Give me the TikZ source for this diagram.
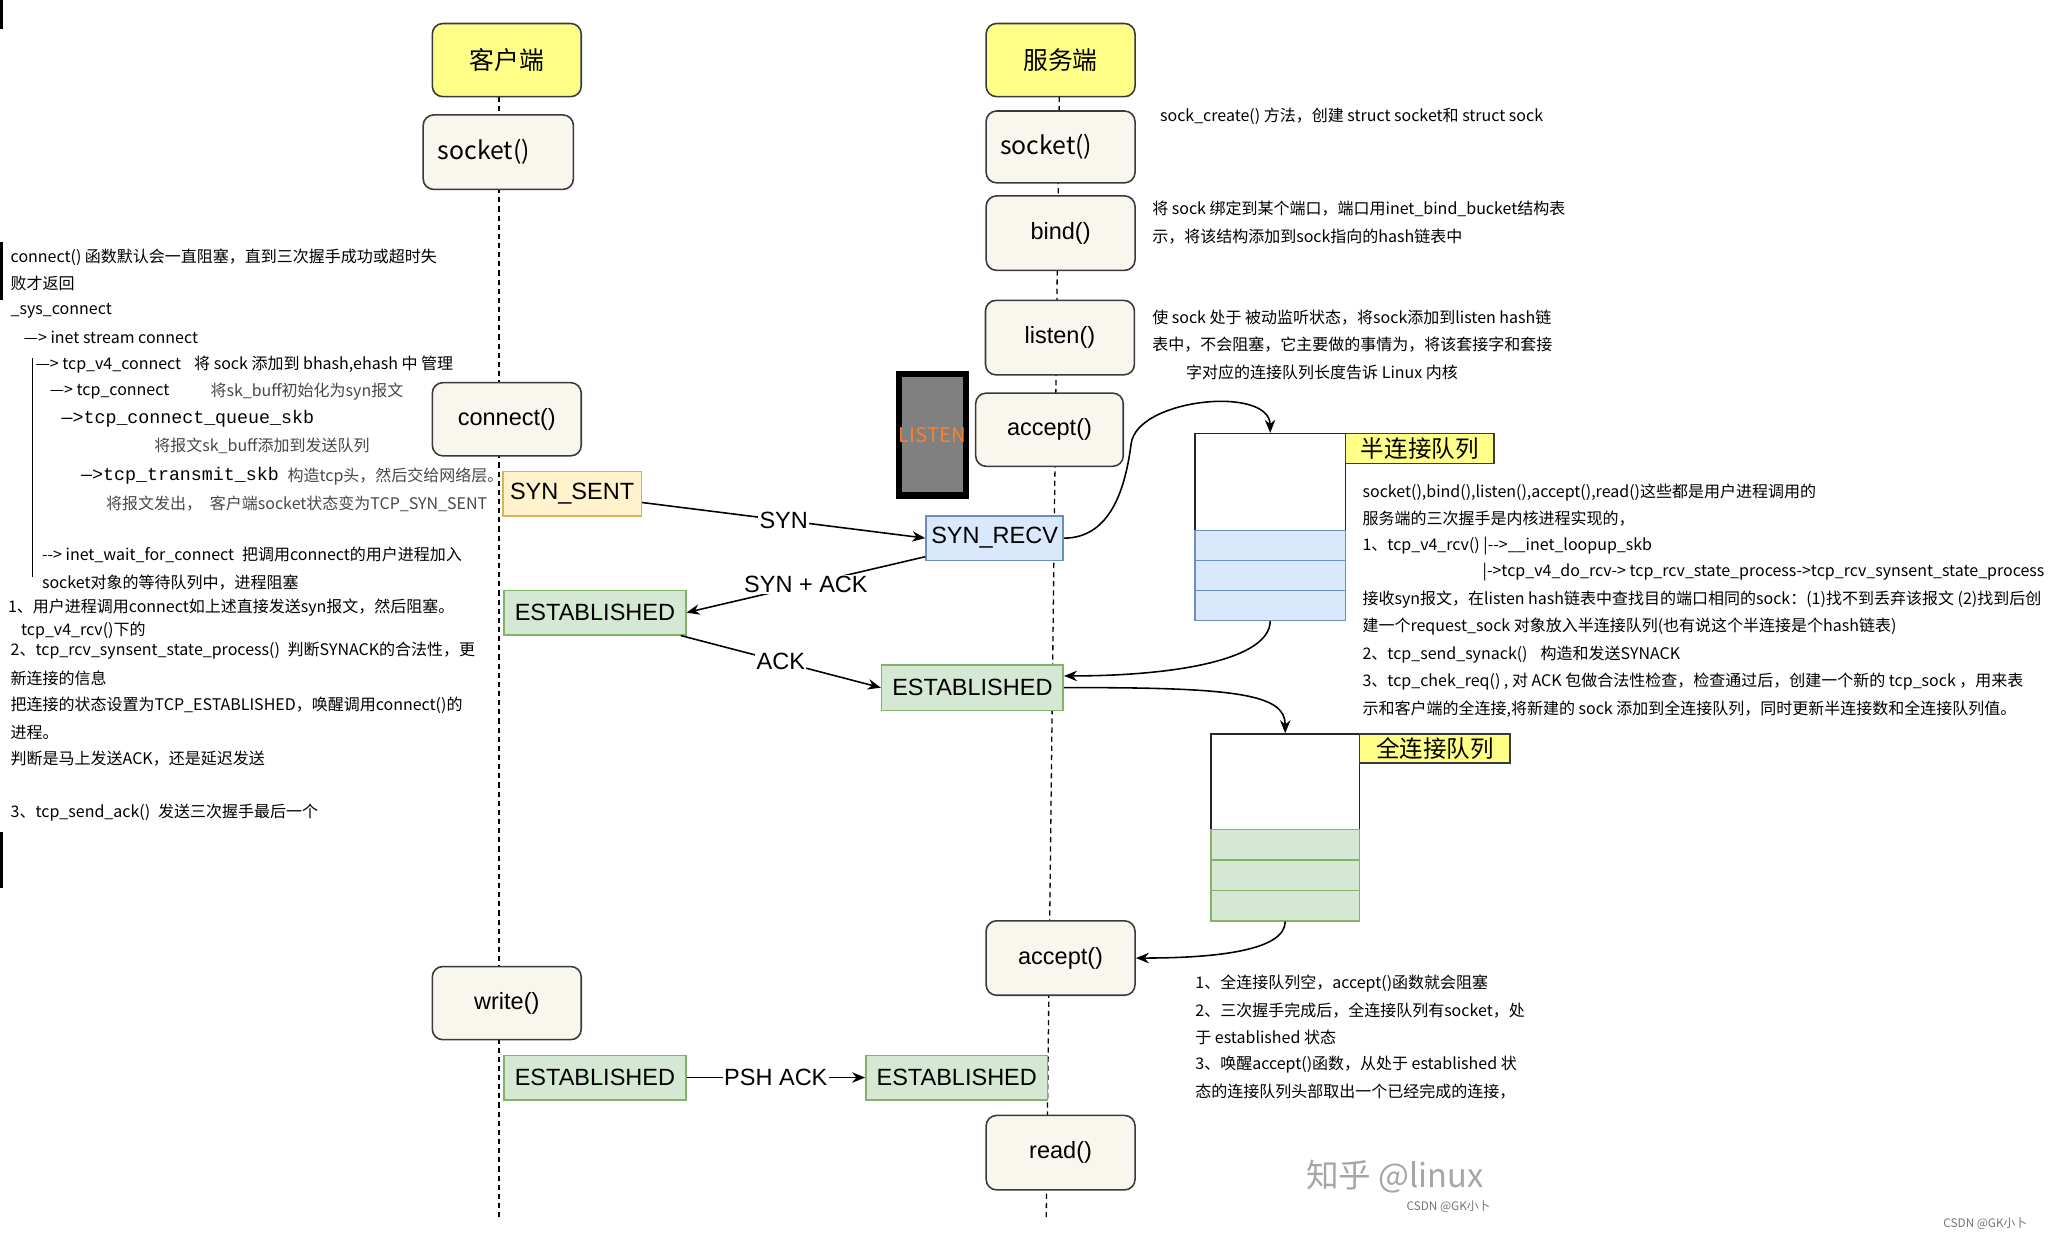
\documentclass[tikz,border=0pt]{standalone}
\usepackage{fontspec}
\setmainfont{Noto Sans CJK SC}
\newfontfamily\drawfont{Liberation Sans}
\newfontfamily\codefont{Liberation Mono}
\usetikzlibrary{arrows.meta}

\definecolor{fnfill}{HTML}{F9F7ED}
\definecolor{fnline}{HTML}{36393D}
\definecolor{headfill}{HTML}{FFFF88}
\definecolor{sentfill}{HTML}{FFF2CC}
\definecolor{sentline}{HTML}{D6B656}
\definecolor{recvfill}{HTML}{DAE8FC}
\definecolor{recvline}{HTML}{6C8EBF}
\definecolor{estfill}{HTML}{D5E8D4}
\definecolor{estline}{HTML}{82B366}
\definecolor{listenorange}{HTML}{FF7F27}

\tikzset{
    fn/.style={rectangle, rounded corners=8pt, draw=fnline, fill=fnfill, line width=1.2pt, minimum width=114pt, minimum height=56pt, inner sep=0pt, font=\drawfont\fontsize{18}{20}\selectfont},
    head/.style={fn, fill=headfill, font=\fontsize{19}{21}\selectfont},
    sockfn/.style={fn, font=\fontsize{19}{21}\selectfont},
    state/.style={rectangle, line width=1.2pt, minimum height=34pt, inner sep=0pt, font=\drawfont\fontsize{18}{20}\selectfont},
    sent/.style={state, fill=sentfill, draw=sentline, minimum width=106pt},
    recv/.style={state, fill=recvfill, draw=recvline, minimum width=105pt},
    estab/.style={state, fill=estfill, draw=estline, minimum width=139pt},
    msg/.style={fill=white, inner sep=1pt, font=\drawfont\fontsize{18}{20}\selectfont},
    arr/.style={-{Stealth[length=10pt, width=8pt]}, line width=1.2pt},
    life/.style={dash pattern=on 4pt off 3pt, line width=1pt},
    qtop/.style={rectangle, draw=black!85, fill=white, line width=1.2pt, inner sep=0pt},
    qhalf/.style={rectangle, draw=recvline, fill=recvfill, line width=1.2pt, inner sep=0pt, minimum width=115pt, minimum height=23pt},
    qfull/.style={rectangle, draw=estline, fill=estfill, line width=1.2pt, inner sep=0pt, minimum width=114pt, minimum height=23.3pt},
    qname/.style={rectangle, draw=fnline, fill=headfill, line width=1.2pt, inner sep=0pt, font=\fontsize{18}{20}\selectfont},
    note/.style={anchor=west, inner sep=0pt, font=\fontsize{12.25}{14}\selectfont},
    dim/.style={note, text=black!72},
    code/.style={note, font=\codefont\fontsize{14}{16}\selectfont},
}

\begin{document}
\begin{tikzpicture}[x=1pt, y=-1pt]
        \useasboundingbox (0, 0) rectangle (1568, 949);
        \coordinate (c0) at (382, 74);
        \coordinate (c1) at (382, 934);
        \coordinate (s0) at (811, 74);
        \coordinate (s1) at (801, 934);
        \draw [life] (c0) -- (c1);
        \draw [life] (s0) -- (s1);

        \node (1) at (388, 46) [head] {客户端};
        \node (2) at (812, 46) [head] {服务端};
        \node (3) at (381.5, 116.5) [sockfn, minimum width=115pt, minimum height=57pt] {socket()\kern22pt};
        \node (4) at (812, 112.5) [sockfn, minimum height=55pt] {socket()\kern22pt};
        \node (5) at (812, 178.5) [fn, minimum height=57pt] {bind()};
        \node (6) at (811.5, 258.5) [fn, minimum height=57pt] {listen()};
        \node (7) at (803.5, 329) [fn, minimum width=113pt] {accept()};
        \node (8) at (714, 333) [rectangle, draw=black, fill=black!50, line width=5pt, minimum width=49pt, minimum height=93pt, inner sep=0pt, text=listenorange, font=\fontsize{15.5}{17}\selectfont] {LISTEN};
        \node (9) at (388, 321) [fn] {connect()};
        \node (10) at (438, 378) [sent] {SYN\_SENT};
        \node (11) at (761.5, 412) [recv] {SYN\_RECV};
        \node (12) at (455.5, 469) [estab] {ESTABLISHED};
        \node (13) at (744.5, 526.5) [estab, minimum height=35pt] {ESTABLISHED};

        \node (14) at (972.5, 369) [qtop, minimum width=115pt, minimum height=74pt] {};
        \node (15) at (972.5, 417.5) [qhalf] {};
        \node (16) at (972.5, 440.5) [qhalf] {};
        \node (17) at (972.5, 463.5) [qhalf] {};
        \node (18) at (1087, 343.5) [qname, minimum width=114pt, minimum height=23pt] {半连接队列};
        \node (19) at (984, 598.5) [qtop, minimum width=114pt, minimum height=73pt] {};
        \node (20) at (984, 646.7) [qfull] {};
        \node (21) at (984, 670) [qfull] {};
        \node (22) at (984, 693.3) [qfull] {};
        \node (23) at (1098.5, 573) [qname, minimum width=115pt, minimum height=22pt] {全连接队列};

        \node (24) at (812, 733.5) [fn, minimum height=57pt] {accept()};
        \node (25) at (388, 768) [fn] {write()};
        \node (26) at (455.5, 825) [estab] {ESTABLISHED};
        \node (27) at (732.5, 825) [estab] {ESTABLISHED};
        \node (28) at (812, 882.5) [fn, minimum height=57pt] {read()};

        \draw (10) edge [arr] node [msg] {SYN} (11.west);
        \draw (11.195) edge [arr] node [msg] {SYN + ACK} (12.east);
        \draw (12.-15) edge [arr] node [msg] {ACK} (13.west);
        \draw (26.east) edge [arr] node [msg] {PSH ACK} (27.west);
        \draw [arr] (11.east) .. controls (852, 412) and (862, 370) .. (866, 340) .. controls (870, 305) and (972, 295) .. (14.north);
        \draw [arr] (17.south) .. controls (972, 505) and (900, 517.5) .. ([yshift=9pt]13.east);
        \draw [arr] (13.east) .. controls (950, 526) and (984, 532) .. (19.north);
        \draw [arr] (22.south) .. controls (984, 728) and (930, 733.5) .. (24.east);

        \draw [line width=1pt] (25, 274) -- (25, 442);
        \node (30) at (8, 197) [note] {connect() 函数默认会一直阻塞，直到三次握手成功或超时失};
        \node (31) at (8, 217) [note] {败才返回};
        \node (32) at (8, 238) [note] {\_sys\_connect};
        \node (33) at (18, 258) [note] {—> inet stream connect};
        \node (34) at (27, 279) [note] {—> tcp\_v4\_connect\hspace{10pt}将 sock 添加到 bhash,ehash 中 管理};
        \node (35) at (38, 300) [note] {—> tcp\_connect};
        \node (36) at (161, 300) [dim] {将sk\_buff初始化为syn报文};
        \node (37) at (47, 321) [code] {—>tcp\_connect\_queue\_skb};
        \node (38) at (118, 341) [dim] {将报文sk\_buff添加到发送队列};
        \node (39) at (62, 364) [code] {—>tcp\_transmit\_skb};
        \node (40) at (220, 365) [dim] {构造tcp头，然后交给网络层。};
        \node (41) at (81, 386) [dim] {将报文发出，\hspace{6pt}客户端socket状态变为TCP\_SYN\_SENT};
        \node (42) at (32, 425) [note] {-\kern0pt-> inet\_wait\_for\_connect\hspace{6pt}把调用connect的用户进程加入};
        \node (43) at (32, 446) [note] {socket对象的等待队列中，进程阻塞};
        \node (44) at (6, 465) [note] {1、用户进程调用connect如上述直接发送syn报文，然后阻塞。};
        \node (45) at (16, 483) [note] {tcp\_v4\_rcv()下的};
        \node (46) at (8, 498) [note] {2、tcp\_rcv\_synsent\_state\_process()\hspace{6pt}判断SYNACK的合法性，更};
        \node (47) at (8, 519) [note] {新连接的信息};
        \node (48) at (8, 540) [note] {把连接的状态设置为TCP\_ESTABLISHED，唤醒调用connect()的};
        \node (49) at (8, 561) [note] {进程。};
        \node (50) at (8, 581) [note] {判断是马上发送ACK，还是延迟发送};
        \node (51) at (8, 622) [note] {3、tcp\_send\_ack()\hspace{6pt}发送三次握手最后一个};

        \node (52) at (888, 89) [note] {sock\_create() 方法，创建 struct socket和 struct sock};
        \node (53) at (882, 160) [note] {将 sock 绑定到某个端口，端口用inet\_bind\_bucket结构表};
        \node (54) at (882, 181) [note] {示，将该结构添加到sock指向的hash链表中};
        \node (55) at (882, 243) [note] {使 sock 处于 被动监听状态，将sock添加到listen hash链};
        \node (56) at (882, 264) [note] {表中，不会阻塞，它主要做的事情为，将该套接字和套接};
        \node (57) at (908, 285) [note] {字对应的连接队列长度告诉 Linux 内核};

        \node (58) at (1043, 377) [note] {socket(),bind(),listen(),accept(),read()这些都是用户进程调用的};
        \node (59) at (1043, 397) [note] {服务端的三次握手是内核进程实现的，};
        \node (60) at (1043, 418) [note] {1、tcp\_v4\_rcv() |-\kern0pt->\_\_inet\_loopup\_skb};
        \node (61) at (1135, 438) [note] {|->tcp\_v4\_do\_rcv-> tcp\_rcv\_state\_process->tcp\_rcv\_synsent\_state\_process};
        \node (62) at (1043, 459) [note] {接收syn报文，在listen hash链表中查找目的端口相同的sock：(1)找不到丢弃该报文 (2)找到后创};
        \node (63) at (1043, 480) [note] {建一个request\_sock 对象放入半连接队列(也有说这个半连接是个hash链表)};
        \node (64) at (1043, 501) [note] {2、tcp\_send\_synack()\hspace{10pt}构造和发送SYNACK};
        \node (65) at (1043, 522) [note] {3、tcp\_chek\_req() , 对 ACK 包做合法性检查，检查通过后，创建一个新的 tcp\_sock ，用来表};
        \node (66) at (1043, 543) [note] {示和客户端的全连接,将新建的 sock 添加到全连接队列，同时更新半连接数和全连接队列值。};

        \node (67) at (915, 753) [note] {1、全连接队列空，accept()函数就会阻塞};
        \node (68) at (915, 774) [note] {2、三次握手完成后，全连接队列有socket，处};
        \node (69) at (915, 794) [note] {于 established 状态};
        \node (70) at (915, 815) [note] {3、唤醒accept()函数，从处于 established 状};
        \node (71) at (915, 836) [note] {态的连接队列头部取出一个已经完成的连接，};

        \node (72) at (1068, 901) [text=black!35, font=\fontsize{25}{27}\selectfont] {知乎 @linux};
        \node (73) at (1109, 924) [text=black!55, font=\fontsize{9}{10}\selectfont] {CSDN @GK小卜};
        \node (74) at (1520, 937) [text=black!55, font=\fontsize{9}{10}\selectfont] {CSDN @GK小卜};

        \draw [line width=2pt] (1, 0) -- (1, 22);
        \draw [line width=2pt] (1, 185) -- (1, 230);
        \draw [line width=2pt] (1, 637) -- (1, 680);
    \end{tikzpicture}
\end{document}
